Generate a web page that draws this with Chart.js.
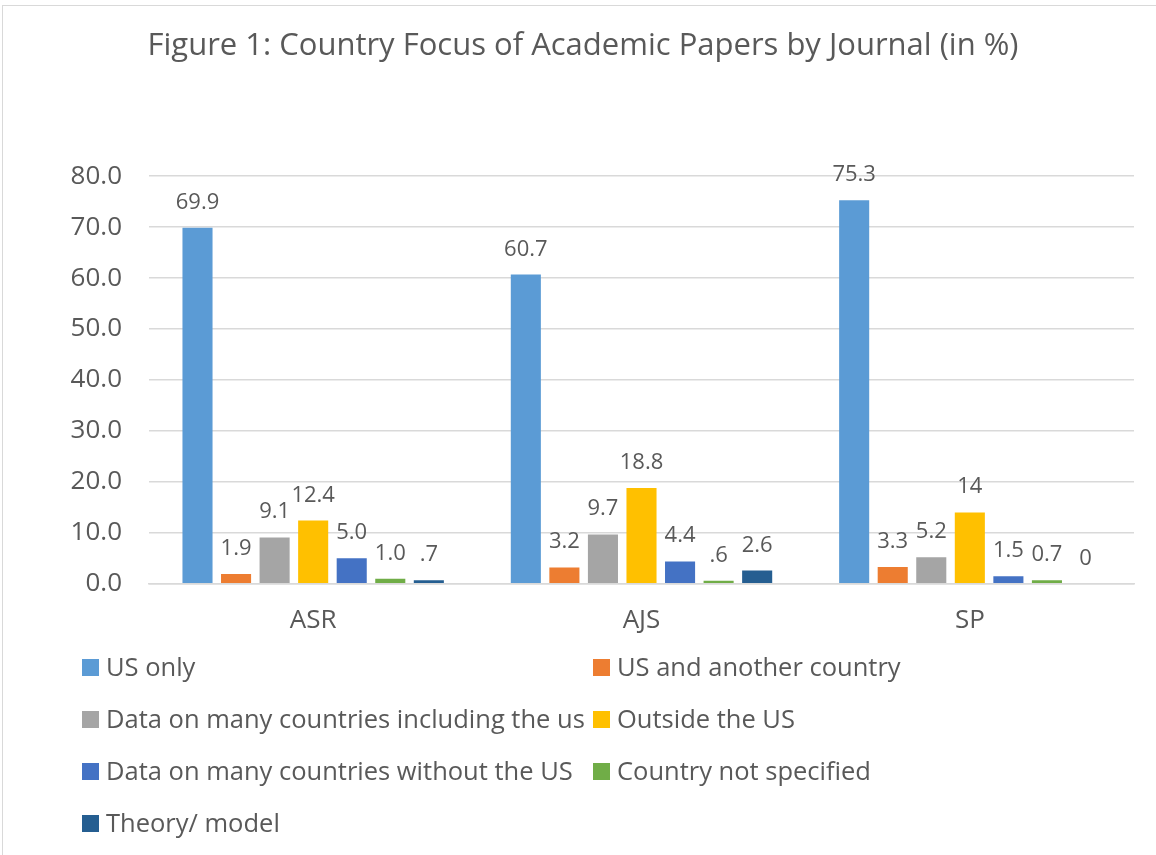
<!DOCTYPE html>
<html>
<head>
<meta charset="utf-8">
<script src="https://cdn.jsdelivr.net/npm/chart.js@4"></script>
<style>
  html, body { margin: 0; padding: 0; background: #fff; overflow: hidden; }
  #wrap { position: relative; width: 1156px; height: 855px; overflow: hidden; }
  #frame { position: absolute; left: 2px; top: 5px; width: 1300px; height: 1000px; border: 1.5px solid #d9d9d9; box-sizing: border-box; }
  canvas { position: absolute; left: 0; top: 0; }
  .lg { position: absolute; font-family: "Open Sans", sans-serif; font-size: 25.5px; line-height: 26px; color: #595959; white-space: nowrap; }
  .sq { position: absolute; width: 17px; height: 17px; }
</style>
</head>
<body>
<div id="wrap">
  <div id="frame"></div>
  <canvas id="c" width="1156" height="855"></canvas>
  <div id="legend"></div>
</div>
<script>
// ---- data ----
const categories = ['ASR', 'AJS', 'SP'];
const seriesNames = [
  'US only',
  'US and another country',
  'Data on many countries including the us',
  'Outside the US',
  'Data on many countries without the US',
  'Country not specified',
  'Theory/ model'
];
const usOnly        = [69.9, 60.7, 75.3];
const usAndAnother  = [1.9, 3.2, 3.3];
const manyInclUS    = [9.1, 9.7, 5.2];
const outsideUS     = [12.4, 18.8, 14];
const manyWithoutUS = [5.0, 4.4, 1.5];
const notSpecified  = [1.0, 0.6, 0.7];
const theoryModel   = [0.7, 2.6, 0];

// value label texts as printed in the figure
const lblUsOnly        = ['69.9', '60.7', '75.3'];
const lblUsAndAnother  = ['1.9', '3.2', '3.3'];
const lblManyInclUS    = ['9.1', '9.7', '5.2'];
const lblOutsideUS     = ['12.4', '18.8', '14'];
const lblManyWithoutUS = ['5.0', '4.4', '1.5'];
const lblNotSpecified  = ['1.0', '.6', '0.7'];
const lblTheoryModel   = ['.7', '2.6', '0'];

const yTicks = [0, 10, 20, 30, 40, 50, 60, 70, 80];

const colors = ['#5B9BD5', '#ED7D31', '#A5A5A5', '#FFC000', '#4472C4', '#70AD47', '#255E91'];
const seriesValues = [usOnly, usAndAnother, manyInclUS, outsideUS, manyWithoutUS, notSpecified, theoryModel];
const seriesLabels = [lblUsOnly, lblUsAndAnother, lblManyInclUS, lblOutsideUS, lblManyWithoutUS, lblNotSpecified, lblTheoryModel];

const FONT = '"Open Sans", sans-serif';
const TEXT = '#595959';

const valueLabelPlugin = {
  id: 'valueLabels',
  afterDatasetsDraw(chart) {
    const ctx = chart.ctx;
    ctx.save();
    ctx.font = '22px ' + FONT;
    ctx.fillStyle = TEXT;
    ctx.textAlign = 'center';
    ctx.textBaseline = 'alphabetic';
    chart.data.datasets.forEach((ds, di) => {
      const meta = chart.getDatasetMeta(di);
      meta.data.forEach((bar, i) => {
        ctx.fillText(ds.valueText[i], bar.x, bar.y - 19);
      });
    });
    ctx.restore();
  }
};

const chart = new Chart(document.getElementById('c'), {
  type: 'bar',
  data: {
    labels: categories,
    datasets: seriesNames.map((name, i) => ({
      label: name,
      data: seriesValues[i],
      valueText: seriesLabels[i],
      backgroundColor: colors[i],
      borderWidth: 0,
      categoryPercentage: 0.822,
      barPercentage: 0.78
    }))
  },
  options: {
    responsive: false,
    animation: false,
    layout: { padding: { left: 32, right: 22, top: 0, bottom: 198 } },
    plugins: {
      legend: { display: false },
      tooltip: { enabled: false },
      title: {
        display: true,
        text: 'Figure 1: Country Focus of Academic Papers by Journal (in %)',
        color: TEXT,
        font: { family: FONT, size: 31, weight: 'normal', lineHeight: 1.2 },
        padding: { top: 28, bottom: 111 }
      }
    },
    scales: {
      x: {
        grid: { display: false, drawTicks: false },
        border: { display: true, color: '#d9d9d9', width: 1.5 },
        ticks: { color: TEXT, font: { family: FONT, size: 26 }, padding: 21 }
      },
      y: {
        min: 0,
        max: 80,
        afterBuildTicks(scale) { scale.ticks = yTicks.map(v => ({ value: v })); },
        afterFit(scale) { scale.width = 117; },
        grid: { color: '#d9d9d9', lineWidth: 1.5, drawTicks: false },
        border: { display: false },
        ticks: {
          color: TEXT,
          font: { family: FONT, size: 26 },
          padding: 27,
          callback: v => Number(v).toFixed(1)
        }
      }
    }
  },
  plugins: [valueLabelPlugin]
});

// ---- legend (two columns, as in the figure) ----
const legend = document.getElementById('legend');
seriesNames.forEach((name, i) => {
  const col = i % 2, row = Math.floor(i / 2);
  const sqLeft = col === 0 ? 82 : 593;
  const sqTop = 659 + row * 52;
  const sq = document.createElement('div');
  sq.className = 'sq';
  sq.style.left = sqLeft + 'px';
  sq.style.top = sqTop + 'px';
  sq.style.background = colors[i];
  legend.appendChild(sq);
  const t = document.createElement('div');
  t.className = 'lg';
  t.style.left = (sqLeft + 24) + 'px';
  t.style.top = (sqTop - 6) + 'px';
  t.textContent = name;
  legend.appendChild(t);
});
</script>
</body>
</html>
